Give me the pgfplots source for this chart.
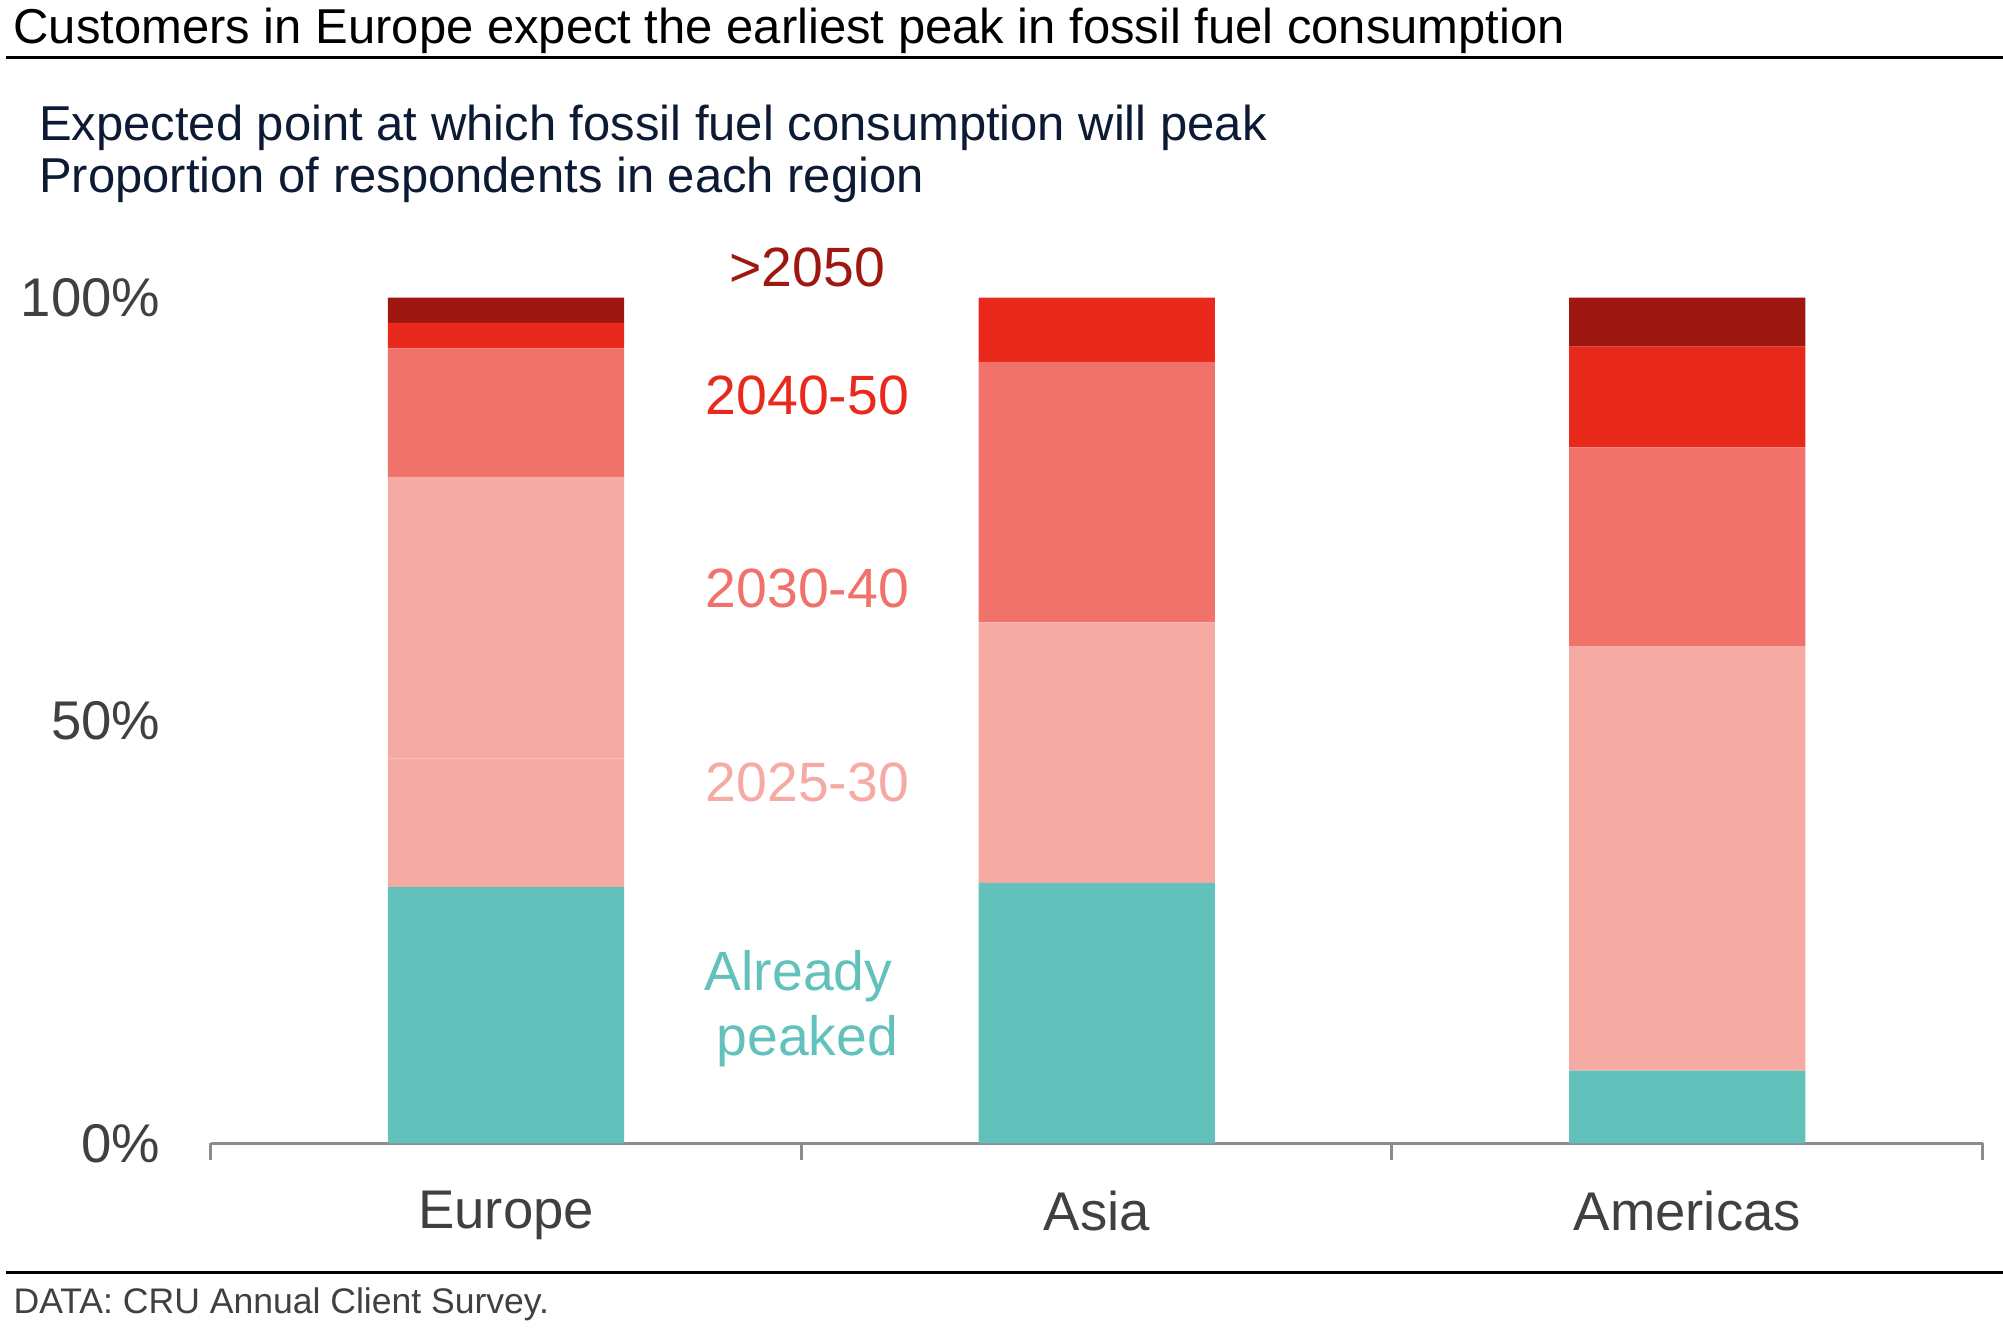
\documentclass[border=0pt]{standalone}
\usepackage{pgfplots}
\pgfplotsset{compat=1.18}
\usepackage{fontspec}
\setmainfont{Liberation Sans}
\definecolor{teal1}{HTML}{62C1BB}
\definecolor{pale}{HTML}{F6AAA4}
\definecolor{salmon}{HTML}{F0726A}
\definecolor{red1}{HTML}{E8291C}
\definecolor{dred}{HTML}{9E1710}
\definecolor{tickgrey}{HTML}{404040}
\definecolor{axgrey}{HTML}{8C8C8C}
\definecolor{navy}{HTML}{0C1A33}
\newcommand\tickfont{\fontsize{12.8}{14}\selectfont}
\newcommand\labfont{\fontsize{13}{15}\selectfont}
\newcommand\titfont{\fontsize{11.5}{13}\selectfont}
\newcommand\footfont{\fontsize{8.35}{10}\selectfont}
\begin{document}
\begin{tikzpicture}
\path[use as bounding box] (-49.5pt,-44.1pt) rectangle (420.9pt,268.5pt);
\begin{axis}[
  at={(0pt,0pt)}, anchor=south west,
  scale only axis, width=416.1pt, height=198.6pt,
  xmin=-0.5, xmax=2.5, ymin=0, ymax=100,
  ybar stacked, bar width=0.4,
  clip=false,
  axis x line*=bottom, axis y line=none,
  x axis line style={axgrey, line width=0.7pt},
  xtick={0,1,2}, xticklabels={Europe,Asia,Americas},
  minor xtick={-0.5,0.5,1.5,2.5},
  major tick style={draw=none},
  minor tick style={axgrey, line width=0.7pt},
  minor tick length=4pt, tick align=outside,
  xticklabel style={font=\tickfont, text=tickgrey, yshift=-3.3pt},
]
\addplot[fill=teal1, draw=none] coordinates {(0,30.3) (1,30.8) (2,8.6)};
\addplot[fill=pale, draw=none] coordinates {(0,15.2) (1,30.8) (2,11.8)};
\addplot[fill=pale, draw=none] coordinates {(0,33.3) (1,0) (2,38.4)};
\addplot[fill=salmon, draw=none] coordinates {(0,15.2) (1,30.8) (2,23.5)};
\addplot[fill=red1, draw=none] coordinates {(0,3.0) (1,7.6) (2,11.9)};
\addplot[fill=dred, draw=none] coordinates {(0,3.0) (1,0) (2,5.8)};
\node[anchor=east, font=\tickfont, text=tickgrey, inner sep=0pt, xshift=-11.7pt] at (axis cs:-0.5,0) {0\%};
\node[anchor=east, font=\tickfont, text=tickgrey, inner sep=0pt, xshift=-11.7pt] at (axis cs:-0.5,50) {50\%};
\node[anchor=east, font=\tickfont, text=tickgrey, inner sep=0pt, xshift=-11.7pt] at (axis cs:-0.5,100) {100\%};
\node[font=\labfont, inner sep=0pt, text=dred] at (axis cs:0.51,103.6) {>2050};
\node[font=\labfont, inner sep=0pt, text=red1] at (axis cs:0.51,88.4) {2040-50};
\node[font=\labfont, inner sep=0pt, text=salmon] at (axis cs:0.51,65.6) {2030-40};
\node[font=\labfont, inner sep=0pt, text=pale] at (axis cs:0.51,42.7) {2025-30};
\node[font=\labfont, inner sep=0pt, text=teal1] at (axis cs:0.495,19.8) {Already};
\node[font=\labfont, inner sep=0pt, text=teal1] at (axis cs:0.51,12.1) {peaked};
\end{axis}
\node[anchor=base west, inner sep=0pt, font=\titfont] at (-46.5pt,258.3pt) {Customers in Europe expect the earliest peak in fossil fuel consumption};
\draw[black, line width=0.7pt] (-48pt,255pt) -- (420.9pt,255pt);
\node[anchor=base west, inner sep=0pt, text=navy, font=\titfont] at (-40.5pt,235.5pt) {Expected point at which fossil fuel consumption will peak};
\node[anchor=base west, inner sep=0pt, text=navy, font=\titfont] at (-40.5pt,223.2pt) {Proportion of respondents in each region};
\draw[black, line width=0.7pt] (-48pt,-30.3pt) -- (420.9pt,-30.3pt);
\node[anchor=base west, inner sep=0pt, text=tickgrey, font=\footfont] at (-46.5pt,-39.9pt) {DATA: CRU Annual Client Survey.};
\end{tikzpicture}
\end{document}
